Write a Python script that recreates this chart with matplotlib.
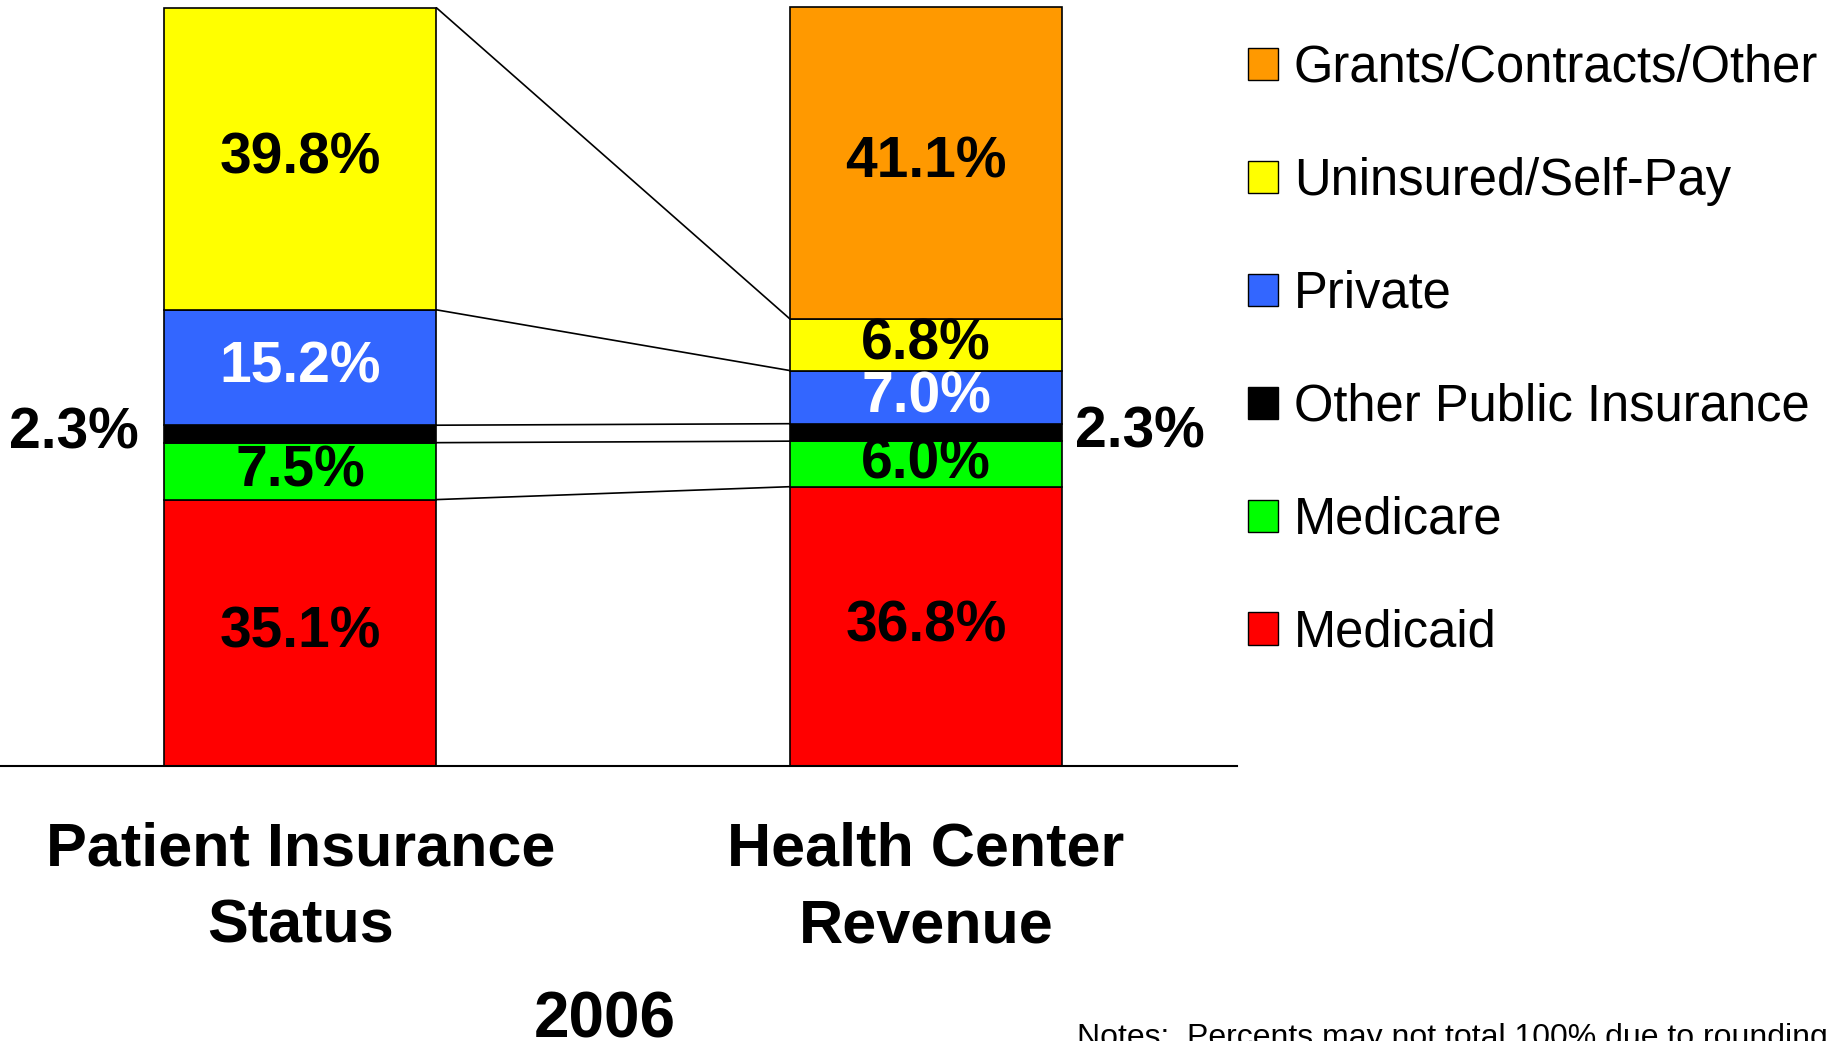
import numpy as np
import matplotlib
matplotlib.use("Agg")
from matplotlib import pyplot as plt
from matplotlib.patches import Patch

plt.rcParams['font.family'] = ['Liberation Sans', 'DejaVu Sans']

# stacking order, bottom to top
categories = ['Medicaid', 'Medicare', 'Other Public Insurance',
              'Private', 'Uninsured/Self-Pay', 'Grants/Contracts/Other']
colors = ['#FF0000', '#00FF00', '#000000', '#3366FF', '#FFFF00', '#FF9900']
text_colors = ['black', 'black', None, 'white', 'black', 'black']

patient_status = [35.1, 7.5, 2.3, 15.2, 39.8, 0.0]
center_revenue = [36.8, 6.0, 2.3, 7.0, 6.8, 41.1]
bar_names = ['Patient Insurance\nStatus', 'Health Center\nRevenue']
year = '2006'
note = 'Notes:  Percents may not total 100% due to rounding'

W, H, DPI = 1830, 1041, 100
fig = plt.figure(figsize=(W / DPI, H / DPI), dpi=DPI)
ax = fig.add_axes([0, (H - 766) / H, 1237 / W, (766 - 7) / H])

width = 0.435
xs = [0, 1]
tops = []
for x, vals in zip(xs, [patient_status, center_revenue]):
    bottom = 0.0
    edges = [0.0]
    for i, v in enumerate(vals):
        if v <= 0:
            edges.append(bottom)
            continue
        ax.bar(x, v, width, bottom=bottom, color=colors[i],
               edgecolor='black', linewidth=1.2, clip_on=False, zorder=2)
        mid = bottom + v / 2
        if text_colors[i] is not None:
            ax.text(x, mid, f'{v:.1f}%', ha='center', va='center',
                    fontsize=41, fontweight='bold', color=text_colors[i])
        else:
            # thin band, label sits outside the bar
            if x == 0:
                ax.text(x - width / 2 - 0.04, mid, f'{v:.1f}%', ha='right',
                        va='center', fontsize=41, fontweight='bold')
            else:
                ax.text(x + width / 2 + 0.02, mid, f'{v:.1f}%', ha='left',
                        va='center', fontsize=41, fontweight='bold')
        bottom += v
        edges.append(bottom)
    tops.append(edges)

# connector lines between matching segment tops
left_edges, right_edges = tops
for k in range(1, 6):
    ax.plot([width / 2, 1 - width / 2], [left_edges[k], right_edges[k]],
            color='black', linewidth=1.2, zorder=1)

ax.set_xlim(-0.480, 1.497)
ax.set_ylim(0, 100)
for side in ['top', 'right', 'left']:
    ax.spines[side].set_visible(False)
ax.spines['bottom'].set_linewidth(1.5)
ax.set_yticks([])
ax.set_xticks(xs)
ax.set_xticklabels(bar_names, fontsize=44, fontweight='bold', linespacing=1.45)
ax.tick_params(axis='x', length=0, pad=40)

handles = [Patch(facecolor=colors[i], edgecolor='black', label=categories[i])
           for i in range(5, -1, -1)]
fig.legend(handles=handles, loc='upper left',
           bbox_to_anchor=(1248 / W, 1 - 44 / H), frameon=False,
           fontsize=36.5, handlelength=0.6, handleheight=0.6,
           handletextpad=0.3, labelspacing=1.26, borderpad=0, borderaxespad=0)

fig.text(605 / W, 1 - 990 / H, year, ha='center', va='top',
         fontsize=46, fontweight='bold')
fig.text(1077 / W, 1 - 1023 / H, note, ha='left', va='top', fontsize=23)

fig.savefig('out.png', dpi=DPI)
